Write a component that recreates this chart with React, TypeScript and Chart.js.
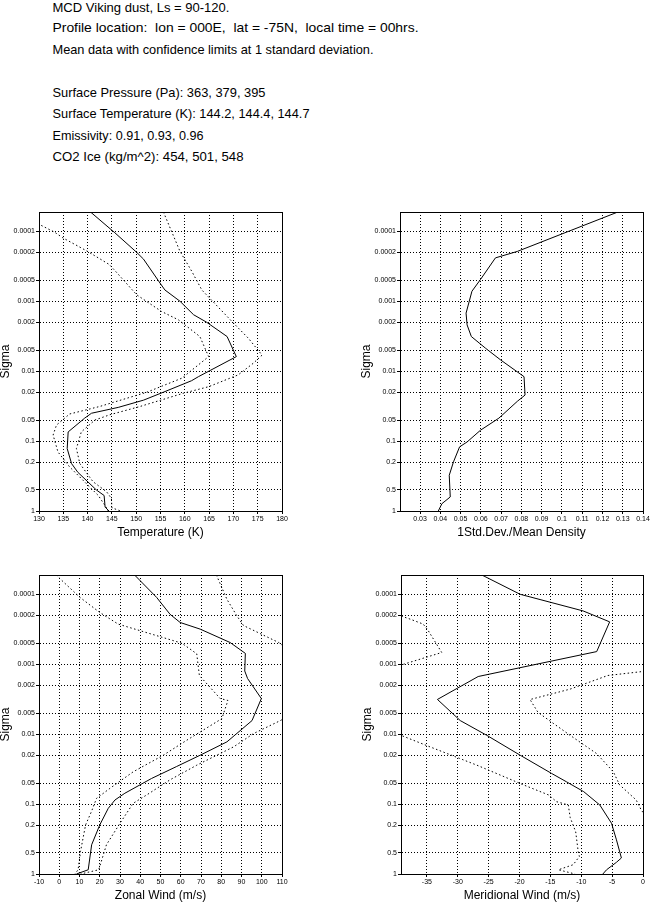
import React, { useEffect, useRef } from "react";
import { Chart, registerables } from "chart.js";

Chart.register(...registerables);

type Pt = [number, number]; // [x value, sigma]

const HEADER_TEXT = [
  "MCD Viking dust, Ls = 90-120.",
  "Profile location:  lon = 000E,  lat = -75N,  local time = 00hrs.",
  "Mean data with confidence limits at 1 standard deviation.",
  "Surface Pressure (Pa): 363, 379, 395",
  "Surface Temperature (K): 144.2, 144.4, 144.7",
  "Emissivity: 0.91, 0.93, 0.96",
  "CO2 Ice (kg/m^2): 454, 501, 548",
];

const SIGMA_TICKS = [0.0001, 0.0002, 0.0005, 0.001, 0.002, 0.005, 0.01, 0.02, 0.05, 0.1, 0.2, 0.5, 1];
const SIGMA_TICK_LABELS = ["0.0001", "0.0002", "0.0005", "0.001", "0.002", "0.005", "0.01", "0.02", "0.05", "0.1", "0.2", "0.5", "1"];
const SIGMA_TOP = 5.3e-5;
const SIGMA_BOTTOM = 1;

const TEMP_TICKS = [130, 135, 140, 145, 150, 155, 160, 165, 170, 175, 180];
const DENS_TICKS = [0.03, 0.04, 0.05, 0.06, 0.07, 0.08, 0.09, 0.1, 0.11, 0.12, 0.13, 0.14];
const ZON_TICKS = [-10, 0, 10, 20, 30, 40, 50, 60, 70, 80, 90, 100, 110];
const MER_TICKS = [-35, -30, -25, -20, -15, -10, -5, 0];

// Temperature (K)
const TEMP_MEAN: Pt[] = [
  [140.6, 5.3e-5], [145.6, 1.05e-4], [150.1, 2.0e-4], [151.5, 2.5e-4], [154.9, 5.5e-4],
  [155.9, 6.9e-4], [159.0, 1.0e-3], [161.8, 1.56e-3], [164.5, 2.0e-3], [168.7, 3.2e-3],
  [170.6, 6.2e-3], [162.8, 1.2e-2], [161.4, 1.37e-2], [155.6, 2.0e-2], [151.5, 2.6e-2],
  [146.3, 3.3e-2], [140.8, 4.0e-2], [139.4, 4.7e-2], [136.0, 7.4e-2], [135.8, 1.28e-1],
  [136.7, 2.1e-1], [138.0, 2.8e-1], [141.8, 5.0e-1], [143.4, 6.0e-1], [143.6, 8.8e-1],
  [144.4, 1.0],
];
const TEMP_LOW: Pt[] = [
  [128.5, 6.5e-5], [130.1, 8.0e-5], [133.2, 1.03e-4], [134.9, 1.24e-4], [140.0, 1.94e-4],
  [144.5, 3.0e-4], [146.0, 3.9e-4], [150.1, 8.1e-4], [155.2, 1.4e-3], [158.7, 1.85e-3],
  [163.1, 3.2e-3], [164.9, 6.2e-3], [159.4, 1.26e-2], [152.2, 2.0e-2], [142.5, 3.2e-2],
  [136.3, 4.1e-2], [133.6, 5.9e-2], [132.9, 8.2e-2], [133.9, 1.43e-1], [136.3, 2.34e-1],
  [139.4, 3.84e-1], [142.2, 6.0e-1], [143.9, 9.0e-1], [144.2, 1.0],
];
const TEMP_HIGH: Pt[] = [
  [155.6, 5.3e-5], [159.0, 1.93e-4], [161.4, 3.7e-4], [163.5, 6.9e-4], [170.0, 2.05e-3],
  [173.1, 3.4e-3], [175.9, 5.9e-3], [174.1, 7.7e-3], [171.0, 1.13e-2], [164.9, 1.67e-2],
  [159.7, 2.07e-2], [150.8, 3.2e-2], [144.6, 4.2e-2], [141.5, 5.0e-2], [138.7, 7.4e-2],
  [137.7, 1.28e-1], [138.4, 2.1e-1], [141.1, 3.8e-1], [143.9, 5.3e-1], [144.9, 6.6e-1],
  [145.0, 9.0e-1], [146.8, 1.0],
];

// 1 Std.Dev./Mean Density
const DENS_STD: Pt[] = [
  [0.1276, 5.3e-5], [0.078, 1.94e-4], [0.0672, 2.4e-4], [0.0598, 4.9e-4], [0.0556, 7.2e-4],
  [0.0527, 1.48e-3], [0.0532, 2.18e-3], [0.0553, 3.2e-3], [0.0623, 4.7e-3], [0.0697, 6.9e-3],
  [0.0813, 1.2e-2], [0.0818, 2.2e-2], [0.078, 2.7e-2], [0.0689, 4.7e-2], [0.0598, 7.0e-2],
  [0.0532, 1.03e-1], [0.0495, 1.21e-1], [0.0465, 1.98e-1], [0.0444, 3.08e-1], [0.0449, 6.3e-1],
  [0.0408, 7.85e-1], [0.039, 1.0],
];

// Zonal wind (m/s)
const ZON_MEAN: Pt[] = [
  [37.2, 5.3e-5], [48.1, 1.11e-4], [54.7, 1.93e-4], [59.7, 2.53e-4], [69.6, 3.15e-4],
  [84.4, 4.9e-4], [91.9, 7.0e-4], [91.6, 1.25e-3], [93.0, 1.6e-3], [99.8, 3.1e-3],
  [95.2, 6.4e-3], [82.8, 1.29e-2], [69.6, 2.0e-2], [58.0, 2.9e-2], [45.6, 4.3e-2],
  [32.4, 7.0e-2], [27.5, 8.75e-2], [24.2, 1.15e-1], [20.0, 1.99e-1], [16.0, 3.82e-1],
  [14.3, 8.7e-1], [8.5, 1.0],
];
const ZON_LOW: Pt[] = [
  [-1.6, 5.3e-5], [10.1, 1.1e-4], [20.0, 1.82e-4], [29.1, 2.67e-4], [60.5, 5.0e-4],
  [67.9, 7.1e-4], [69.2, 1.45e-3], [79.5, 3.1e-3], [83.3, 3.3e-3], [80.3, 6.0e-3],
  [63.0, 1.22e-2], [51.4, 2.0e-2], [36.5, 3.46e-2], [25.0, 5.97e-2], [18.4, 8.3e-2],
  [15.9, 1.28e-1], [13.0, 1.99e-1], [10.5, 4.76e-1], [9.3, 8.7e-1], [7.7, 1.0],
];
const ZON_HIGH: Pt[] = [
  [77.6, 5.3e-5], [82.8, 1.18e-4], [87.7, 2.03e-4], [91.0, 2.8e-4], [108.4, 4.9e-4],
  [118.0, 8.0e-4], [125.0, 2.0e-3], [118.0, 4.5e-3], [109.2, 6.4e-3], [96.0, 9.8e-3],
  [86.1, 1.52e-2], [67.9, 2.78e-2], [54.7, 4.5e-2], [43.2, 7.4e-2], [36.5, 9.75e-2],
  [30.0, 1.88e-1], [23.3, 3.82e-1], [19.5, 8.7e-1], [10.5, 1.0],
];

// Meridional wind (m/s)
const MER_MEAN: Pt[] = [
  [-26.1, 5.3e-5], [-19.9, 1.0e-4], [-9.7, 1.73e-4], [-5.4, 2.48e-4], [-7.5, 6.6e-4],
  [-25.1, 1.4e-3], [-26.7, 1.5e-3], [-33.3, 3.19e-3], [-29.6, 6.4e-3], [-25.3, 1.04e-2],
  [-19.9, 2.0e-2], [-14.8, 3.65e-2], [-12.4, 4.8e-2], [-9.6, 6.65e-2], [-7.0, 1.03e-1],
  [-5.1, 1.88e-1], [-4.3, 3.25e-1], [-3.5, 5.9e-1], [-4.3, 6.8e-1], [-5.9, 8.7e-1],
  [-6.5, 1.0],
];
const MER_LOW: Pt[] = [
  [-41.0, 1.8e-4], [-37.7, 2.27e-4], [-35.6, 2.67e-4], [-34.8, 3.3e-4], [-32.6, 6.8e-4],
  [-38.6, 9.9e-4], [-45.0, 1.5e-3], [-48.0, 4.0e-3], [-41.0, 9.0e-3], [-34.5, 1.52e-2],
  [-26.9, 2.78e-2], [-19.4, 5.3e-2], [-15.3, 7.4e-2], [-14.0, 9.25e-2], [-12.1, 1.03e-1],
  [-11.8, 1.55e-1], [-10.9, 2.5e-1], [-10.5, 4.76e-1], [-10.3, 5.6e-1], [-11.3, 7.36e-1],
  [-13.7, 8.7e-1], [-11.0, 1.0],
];
const MER_HIGH: Pt[] = [
  [4.0, 5.3e-5], [2.0, 1.1e-3], [0.0, 1.27e-3], [-5.7, 1.45e-3], [-11.8, 2.27e-3],
  [-18.3, 3.2e-3], [-17.0, 4.9e-3], [-11.8, 1.04e-2], [-7.5, 1.9e-2], [-4.8, 3.46e-2],
  [-3.8, 5.3e-2], [-1.1, 8.75e-2], [-0.3, 1.21e-1], [3.0, 3.0e-1], [2.0, 1.0],
];

const FONT = "'Liberation Sans', Arial, sans-serif";

// header layout: [baseline y, rendered width]
const HEADER_LAYOUT: [number, number][] = [
  [11.7, 177], [32.3, 366], [54, 321], [96.7, 213], [118.3, 257], [140, 151], [160.7, 191],
];

interface PanelSpec {
  id: string;
  left: number;
  top: number;
  right: number;
  bottom: number;
  xMin: number;
  xMax: number;
  xTicks: number[];
  xTitle: string;
  solid: Pt[][];
  dotted: Pt[][];
}

const PANELS: PanelSpec[] = [
  { id: "t", left: 39, top: 212, right: 282, bottom: 511, xMin: 130, xMax: 180, xTicks: TEMP_TICKS,
    xTitle: "Temperature (K)", solid: [TEMP_MEAN], dotted: [TEMP_LOW, TEMP_HIGH] },
  { id: "d", left: 400, top: 212, right: 643, bottom: 511, xMin: 0.0201, xMax: 0.14, xTicks: DENS_TICKS,
    xTitle: "1Std.Dev./Mean Density", solid: [DENS_STD], dotted: [] },
  { id: "u", left: 39, top: 575, right: 282, bottom: 874, xMin: -10, xMax: 110, xTicks: ZON_TICKS,
    xTitle: "Zonal Wind (m/s)", solid: [ZON_MEAN], dotted: [ZON_LOW, ZON_HIGH] },
  { id: "v", left: 401, top: 575, right: 643, bottom: 874, xMin: -39.2, xMax: 0, xTicks: MER_TICKS,
    xTitle: "Meridional Wind (m/s)", solid: [MER_MEAN], dotted: [MER_LOW, MER_HIGH] },
];

const Y_AXIS_W = 39;
const PAD_TOP = 10;
const PAD_RIGHT = 10;
const X_AXIS_H = 28;
const PAD_BOTTOM = 4;

const framePlugin = {
  id: "frame",
  afterDraw(chart: any) {
    const { ctx, chartArea: a } = chart;
    ctx.save();
    ctx.strokeStyle = "#000";
    ctx.lineWidth = 1;
    ctx.setLineDash([]);
    ctx.strokeRect(a.left + 0.5, a.top + 0.5, a.right - a.left, a.bottom - a.top);
    ctx.restore();
  },
};

function fmt(v: number) {
  return String(parseFloat(v.toFixed(3)));
}

function Panel({ spec }: { spec: PanelSpec }) {
  const ref = useRef<HTMLCanvasElement | null>(null);
  const w = spec.right - spec.left + Y_AXIS_W + PAD_RIGHT;
  const h = spec.bottom - spec.top + PAD_TOP + X_AXIS_H + PAD_BOTTOM;

  useEffect(() => {
    if (!ref.current) return;
    const mk = (pts: Pt[], dotted: boolean) => ({
      data: pts.map(([x, y]) => ({ x, y })),
      borderColor: "#000",
      borderWidth: 1,
      borderDash: dotted ? [1.5, 2.5] : [],
      pointRadius: 0,
      pointHoverRadius: 0,
      fill: false,
      tension: 0,
    });
    const chart = new Chart(ref.current, {
      type: "line",
      data: {
        datasets: [
          ...spec.dotted.map((p) => mk(p, true)),
          ...spec.solid.map((p) => mk(p, false)),
        ],
      },
      options: {
        animation: false,
        responsive: false,
        maintainAspectRatio: false,
        events: [],
        layout: { padding: { left: 0, top: PAD_TOP, right: PAD_RIGHT, bottom: PAD_BOTTOM } },
        plugins: { legend: { display: false }, tooltip: { enabled: false } },
        scales: {
          x: {
            type: "linear",
            min: spec.xMin,
            max: spec.xMax,
            afterBuildTicks: (s: any) => {
              s.ticks = spec.xTicks.map((v) => ({ value: v }));
            },
            afterFit: (s: any) => {
              s.height = X_AXIS_H;
            },
            ticks: {
              autoSkip: false,
              maxRotation: 0,
              minRotation: 0,
              padding: 1,
              color: "#000",
              font: { family: FONT, size: 7 },
              callback: (v: any) => fmt(Number(v)),
            },
            grid: { color: "#000", lineWidth: 1, tickLength: 3, tickColor: "#000", drawTicks: true },
            border: { display: true, color: "#000", width: 1, dash: [1, 2] },
            title: {
              display: true,
              text: spec.xTitle,
              color: "#000",
              padding: 0,
              font: { family: FONT, size: 12, lineHeight: 1 },
            },
          },
          y: {
            type: "logarithmic",
            reverse: true,
            min: SIGMA_TOP,
            max: SIGMA_BOTTOM,
            afterBuildTicks: (s: any) => {
              s.ticks = SIGMA_TICKS.map((v) => ({ value: v }));
            },
            afterFit: (s: any) => {
              s.width = Y_AXIS_W;
            },
            ticks: {
              autoSkip: false,
              padding: 1,
              color: "#000",
              font: { family: FONT, size: 7 },
              callback: (_v: any, i: number) => SIGMA_TICK_LABELS[i],
            },
            grid: { color: "#000", lineWidth: 1, tickLength: 3, tickColor: "#000", drawTicks: true },
            border: { display: true, color: "#000", width: 1, dash: [1, 2] },
            title: {
              display: true,
              text: "Sigma",
              color: "#000",
              padding: 0,
              font: { family: FONT, size: 12, lineHeight: 1 },
            },
          },
        },
      } as any,
      plugins: [framePlugin],
    } as any);
    return () => chart.destroy();
  }, [spec]);

  return (
    <canvas
      ref={ref}
      width={w}
      height={h}
      style={{
        position: "absolute",
        left: spec.left - Y_AXIS_W,
        top: spec.top - PAD_TOP,
        width: w,
        height: h,
      }}
    />
  );
}

export default function App() {
  return (
    <div
      style={{
        position: "absolute",
        left: 0,
        top: 0,
        width: 650,
        height: 902,
        background: "#fff",
        overflow: "hidden",
      }}
    >
      <svg
        width={650}
        height={175}
        style={{ position: "absolute", left: 0, top: 0 }}
      >
        {HEADER_TEXT.map((text, i) => (
          <text
            key={i}
            x={52.5}
            y={HEADER_LAYOUT[i][0]}
            textLength={HEADER_LAYOUT[i][1]}
            lengthAdjust="spacingAndGlyphs"
            fontFamily={FONT}
            fontSize={13}
            fill="#000"
            style={{ whiteSpace: "pre" }}
          >
            {text}
          </text>
        ))}
      </svg>
      {PANELS.map((p) => (
        <Panel key={p.id} spec={p} />
      ))}
    </div>
  );
}
